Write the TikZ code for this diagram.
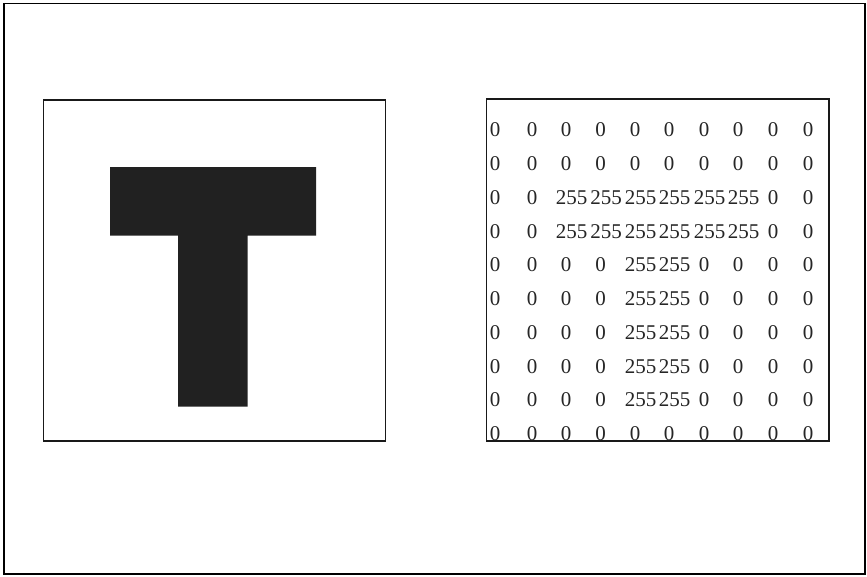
\documentclass[tikz,border=0pt]{standalone}
\usepackage{fontspec}
\setmainfont{Liberation Serif}
\begin{document}
\begin{tikzpicture}[x=1pt,y=-1pt,
  frame/.style={draw=black,line width=1.4pt},
  panel/.style={draw=black!90,line width=1.5pt},
  cell/.style={inner sep=0pt,font=\fontsize{21}{21}\selectfont,text=black!85}]
\useasboundingbox (0,0) rectangle (867,576);
\fill[white] (0,0) rectangle (867,576);
\draw[frame] (4,3.5) rectangle (865,574);
% left panel with T
\node[panel,minimum width=342pt,minimum height=341pt,inner sep=0pt,anchor=north west] (img) at (42.5,99) {};
\fill[black!87] (110,167) -- (316,167) -- (316,235.5) -- (247.5,235.5) -- (247.5,406.5) -- (178,406.5) -- (178,235.5) -- (110,235.5) -- cycle;
% right panel with matrix
\coordinate (mtl) at (486.5,99);
\coordinate (mbr) at (829,441);
\begin{scope}
\clip (mtl) rectangle (mbr);
\def\colx{{495,532,566,600.5,635,669,704,738,773,808}}
\foreach \r in {0,...,9}{
  \foreach \c in {0,...,9}{
    \pgfmathsetmacro{\xx}{\colx[\c]}
    \pgfmathsetmacro{\yy}{130+33.75*\r}
    \pgfmathtruncatemacro{\big}{ ((\r==2 || \r==3) && \c>=2 && \c<=7) || (\r>=4 && \r<=8 && (\c==4 || \c==5)) ? 1 : 0}
    \ifnum\big=1
      \node[cell] (m-\r-\c) at (\xx+5.5,\yy) {255};
    \else
      \node[cell] (m-\r-\c) at (\xx,\yy) {0};
    \fi
  }
}
\end{scope}
\draw[panel] (mtl) rectangle (mbr);
\end{tikzpicture}
\end{document}
